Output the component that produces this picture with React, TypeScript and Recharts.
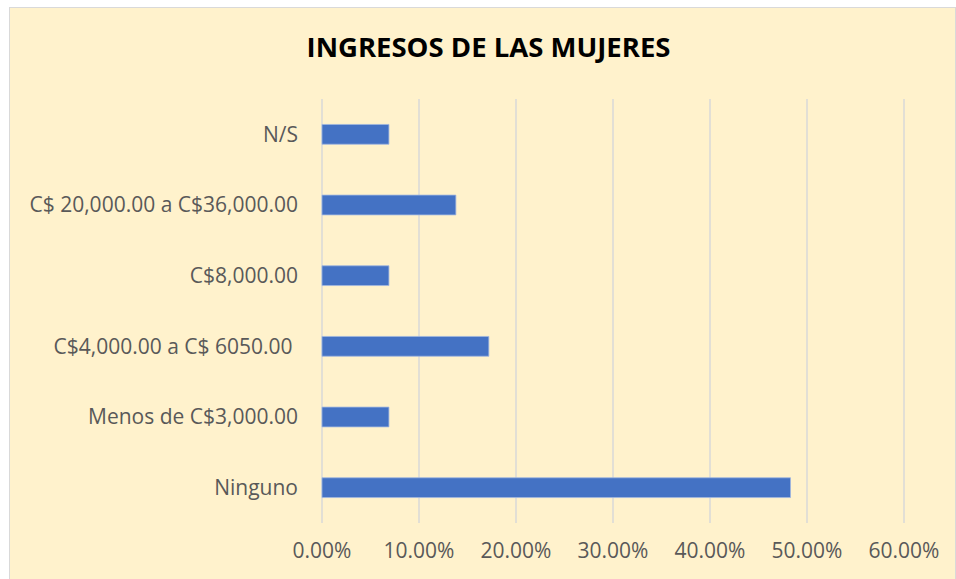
import { BarChart, Bar, XAxis, YAxis, CartesianGrid } from "recharts";

const categories = [
  "N/S",
  "C$ 20,000.00 a C$36,000.00",
  "C$8,000.00",
  "C$4,000.00 a C$ 6050.00\u00a0",
  "Menos de C$3,000.00",
  "Ninguno",
];
const shares = [0.069, 0.138, 0.069, 0.172, 0.069, 0.483];
const xTicks = [0, 0.1, 0.2, 0.3, 0.4, 0.5, 0.6];

const data = categories.map((name, i) => ({ name, value: shares[i] }));

const font = "'Open Sans', sans-serif";

export default function App() {
  return (
    <div
      style={{
        position: "absolute",
        left: 9,
        top: 7,
        width: 945,
        height: 574,
        background: "#FFF2CC",
        border: "1px solid #D9D9D9",
        fontFamily: font,
      }}
    >
      <div
        style={{
          position: "absolute",
          left: 6,
          width: 945,
          top: 25,
          lineHeight: 1,
          textAlign: "center",
          fontSize: 27.5,
          fontWeight: 700,
          color: "#000",
        }}
      >
        INGRESOS DE LAS MUJERES
      </div>
      <BarChart
        width={945}
        height={572}
        data={data}
        layout="vertical"
        margin={{ top: 91, right: 51, left: 0, bottom: 17 }}
        barCategoryGap="64%"
      >
        <CartesianGrid horizontal={false} stroke="#D9D9D9" strokeWidth={1.5} />
        <XAxis
          type="number"
          domain={[0, 0.6]}
          ticks={xTicks}
          tickFormatter={(v) => `${(v * 100).toFixed(2)}%`}
          tick={{ fontSize: 21, fill: "#595959", fontFamily: font }}
          axisLine={false}
          tickLine={false}
          tickMargin={14}
          height={40}
        />
        <YAxis
          type="category"
          dataKey="name"
          width={312}
          tick={{ fontSize: 21, fill: "#595959", fontFamily: font }}
          axisLine={false}
          tickLine={false}
          tickMargin={18}
        />
        <Bar
          dataKey="value"
          fill="#4472C4"
          stroke="#9FB6E0"
          strokeWidth={0.8}
          isAnimationActive={false}
        />
      </BarChart>
    </div>
  );
}
